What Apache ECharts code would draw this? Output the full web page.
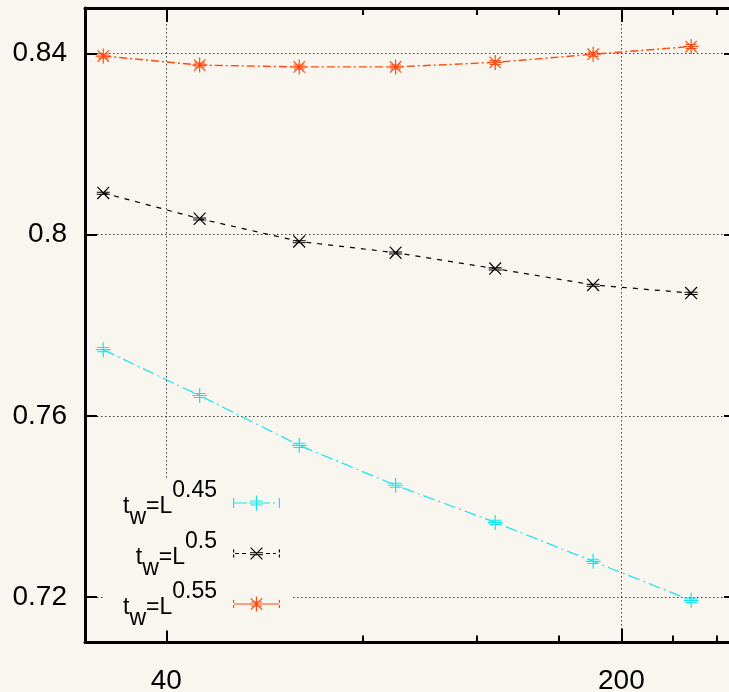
<!DOCTYPE html>
<html>
<head>
<meta charset="utf-8">
<script src="https://cdn.jsdelivr.net/npm/echarts@6/dist/echarts.min.js"></script>
<style>
  html, body { margin: 0; padding: 0; background: #f8f6ef; }
  #chart { width: 729px; height: 692px; }
</style>
</head>
<body>
<div id="chart"></div>
<script>
// System sizes L (log-scaled x axis)
const sizesL = [32, 45, 64, 90, 128, 181, 256];
// Exponents of the waiting time t_w = L^a
const exponents = ['0.45', '0.5', '0.55'];
// Measured values for each waiting-time law
const values045 = [0.7746, 0.7645, 0.7535, 0.7447, 0.7365, 0.7279, 0.7193];
const values050 = [0.8092, 0.8035, 0.7985, 0.7960, 0.7925, 0.7889, 0.7871];
const values055 = [0.8394, 0.8374, 0.8370, 0.8370, 0.8380, 0.8398, 0.8415];
// Tick positions
const xMajorTicks = [40, 200];
const xMinorTicks = [80, 120, 160, 240, 280];
const yTicks = [0.72, 0.76, 0.80, 0.84];

const BG = '#f8f6ef';
const FONT = '"Liberation Sans", Arial, sans-serif';
const COLORS = ['#14e6ee', '#000000', '#ff4a12'];

// --- marker shapes built from thin filled strips ---
function rect(x, y, w, h) {
  return 'M' + x + ',' + y + 'L' + (x + w) + ',' + y + 'L' + (x + w) + ',' + (y + h) + 'L' + x + ',' + (y + h) + 'Z';
}
function strip(x1, y1, x2, y2, t) {
  const dx = x2 - x1, dy = y2 - y1, len = Math.hypot(dx, dy);
  const nx = -dy / len * t / 2, ny = dx / len * t / 2;
  let pts = [[x1 + nx, y1 + ny], [x2 + nx, y2 + ny], [x2 - nx, y2 - ny], [x1 - nx, y1 - ny]];
  let area = 0;
  for (let i = 0; i < 4; i++) {
    const j = (i + 1) % 4;
    area += pts[i][0] * pts[j][1] - pts[j][0] * pts[i][1];
  }
  if (area < 0) pts = pts.reverse();
  return 'M' + pts.map(p => p[0].toFixed(2) + ',' + p[1].toFixed(2)).join('L') + 'Z';
}
// shapes drawn at an offset (ox, oy)
function plusShape(ox, oy) {
  return rect(ox + 6.9, oy, 1.2, 15) + rect(ox, oy + 6.9, 15, 1.2) +
    rect(ox + 1.5, oy + 4.9, 12, 1) + rect(ox + 1.5, oy + 9.1, 12, 1);
}
function crossShape(ox, oy) {
  return strip(ox + 0.6, oy + 0.6, ox + 12.4, oy + 12.4, 1.2) + strip(ox + 12.4, oy + 0.6, ox + 0.6, oy + 12.4, 1.2) +
    rect(ox, oy + 5.3, 13, 1) + rect(ox, oy + 7.3, 13, 1);
}
function starShape(ox, oy) {
  return rect(ox + 6.9, oy, 1.2, 15) + rect(ox, oy + 6.9, 15, 1.2) +
    strip(ox + 1.8, oy + 1.8, ox + 13.2, oy + 13.2, 1.2) + strip(ox + 13.2, oy + 1.8, ox + 1.8, oy + 13.2, 1.2) +
    rect(ox + 2, oy + 5, 11, 1) + rect(ox + 2, oy + 9, 11, 1);
}
const symbols = ['path://' + plusShape(0, 0), 'path://' + crossShape(0, 0), 'path://' + starShape(0, 0)];
const symbolSizes = [15, 13, 15];

// legend samples (47 x 16): end bars, line pattern and the marker in the middle
const legendIcons = [
  'path://' + rect(0, 3, 1.2, 10) + rect(45.8, 3, 1.2, 10) + rect(1, 7.4, 13, 1.2) +
    rect(31, 7.4, 6, 1.2) + rect(40, 7.4, 2, 1.2) + plusShape(16, 0.5) + rect(0, 0, 0.01, 16) + rect(46.99, 0, 0.01, 16),
  'path://' + rect(0, 4, 1.2, 3) + rect(0, 9, 1.2, 3) + rect(45.8, 4, 1.2, 3) + rect(45.8, 9, 1.2, 3) +
    rect(2, 7.4, 4, 1.2) + rect(9, 7.4, 4, 1.2) + rect(33, 7.4, 4, 1.2) + rect(40, 7.4, 3, 1.2) +
    crossShape(17, 1.5) + rect(0, 0, 0.01, 16) + rect(46.99, 0, 0.01, 16),
  'path://' + rect(0, 4, 1.2, 3) + rect(0, 9, 1.2, 3) + rect(45.8, 4, 1.2, 3) + rect(45.8, 9, 1.2, 3) +
    rect(1, 7.4, 15, 1.2) + rect(31, 7.4, 15, 1.2) + starShape(16, 0.5) + rect(0, 0, 0.01, 16) + rect(46.99, 0, 0.01, 16)
];

const seriesNames = exponents.map(e => 't_w=L^' + e);
const valueSets = [values045, values050, values055];
const dashTypes = [[12, 4, 2, 4], [5, 6], [8, 3, 2, 3]];
const lineWidths = [1.2, 1.2, 1.4];

function pairs(ys) { return sizesL.map((x, i) => [x, ys[i]]); }

const gridLine = { show: true, lineStyle: { color: '#3c3c3c', width: 1, type: [1.5, 2.5] } };
const axisLineStyle = { show: true, onZero: false, lineStyle: { color: '#000', width: 3 } };
const tickLine = { color: '#000', width: 2 };

function logAxis(position, ticks, len, extra) {
  return Object.assign({
    type: 'log', logBase: 10, min: 30, max: 300, position: position,
    axisLine: { show: false },
    axisTick: { inside: true, length: len, customValues: ticks, lineStyle: tickLine },
    axisLabel: { show: false }, splitLine: { show: false },
    minorTick: { show: false }, minorSplitLine: { show: false }
  }, extra || {});
}

// rich-text pieces of the legend labels: main text, subscript, superscript
const legendFont = { color: '#000', fontSize: 23, fontFamily: FONT };
const legendRich = {
  h: Object.assign({}, legendFont, { lineHeight: 48 }),
  a: Object.assign({}, legendFont, { lineHeight: 10, verticalAlign: 'top', padding: [16.5, 0, 0, 0] }),
  s: Object.assign({}, legendFont, { lineHeight: 10, verticalAlign: 'top', padding: [27.5, 0, 0, 0] }),
  p: Object.assign({}, legendFont, { lineHeight: 10, verticalAlign: 'top', padding: [0.5, 0, 0, 0] }),
  g: Object.assign({}, legendFont, { lineHeight: 10, width: 11 })
};

const chart = echarts.init(document.getElementById('chart'), null, { renderer: 'canvas' });
chart.setOption({
  backgroundColor: BG,
  animation: false,
  grid: { left: 85, right: -7, top: 8, bottom: 49.5, containLabel: false, outerBoundsMode: 'none' },
  xAxis: [
    logAxis('bottom', xMajorTicks, 14, {
      axisLine: axisLineStyle,
      axisLabel: { customValues: xMajorTicks, color: '#000', fontSize: 28, fontFamily: FONT, margin: 25 },
      splitLine: gridLine
    }),
    logAxis('top', xMajorTicks, 14, { axisLine: axisLineStyle }),
    logAxis('bottom', xMinorTicks, 7),
    logAxis('top', xMinorTicks, 7)
  ],
  yAxis: [
    {
      type: 'value', min: 0.71, max: 0.85, position: 'left',
      axisLine: axisLineStyle,
      axisTick: { inside: true, length: 12, customValues: yTicks, lineStyle: tickLine },
      axisLabel: { customValues: yTicks, color: '#000', fontSize: 28, fontFamily: FONT, margin: 18 },
      splitLine: gridLine
    },
    {
      type: 'value', min: 0.71, max: 0.85, position: 'right',
      axisLine: axisLineStyle,
      axisTick: { inside: true, length: 12, customValues: yTicks, lineStyle: tickLine },
      axisLabel: { show: false }, splitLine: { show: false }
    }
  ],
  legend: {
    orient: 'vertical', align: 'right',
    right: 436, top: 479,
    padding: [0, 13, 0, 19],
    itemGap: 0, itemWidth: 47, itemHeight: 16,
    backgroundColor: BG,
    selectedMode: false,
    data: seriesNames.map((n, i) => ({ name: n, icon: legendIcons[i] })),
    formatter: name => '{h|\u200b}{a|t}{s|w}{a|=L}{p|' + exponents[seriesNames.indexOf(name)] + '}{g|\u200b}',
    textStyle: Object.assign({}, legendFont, { rich: legendRich })
  },
  series: seriesNames.map((n, i) => ({
    name: n, type: 'line', data: pairs(valueSets[i]),
    symbol: symbols[i], symbolSize: symbolSizes[i],
    itemStyle: { color: COLORS[i] },
    lineStyle: { color: COLORS[i], width: lineWidths[i], type: dashTypes[i] }
  }))
});
</script>
</body>
</html>
